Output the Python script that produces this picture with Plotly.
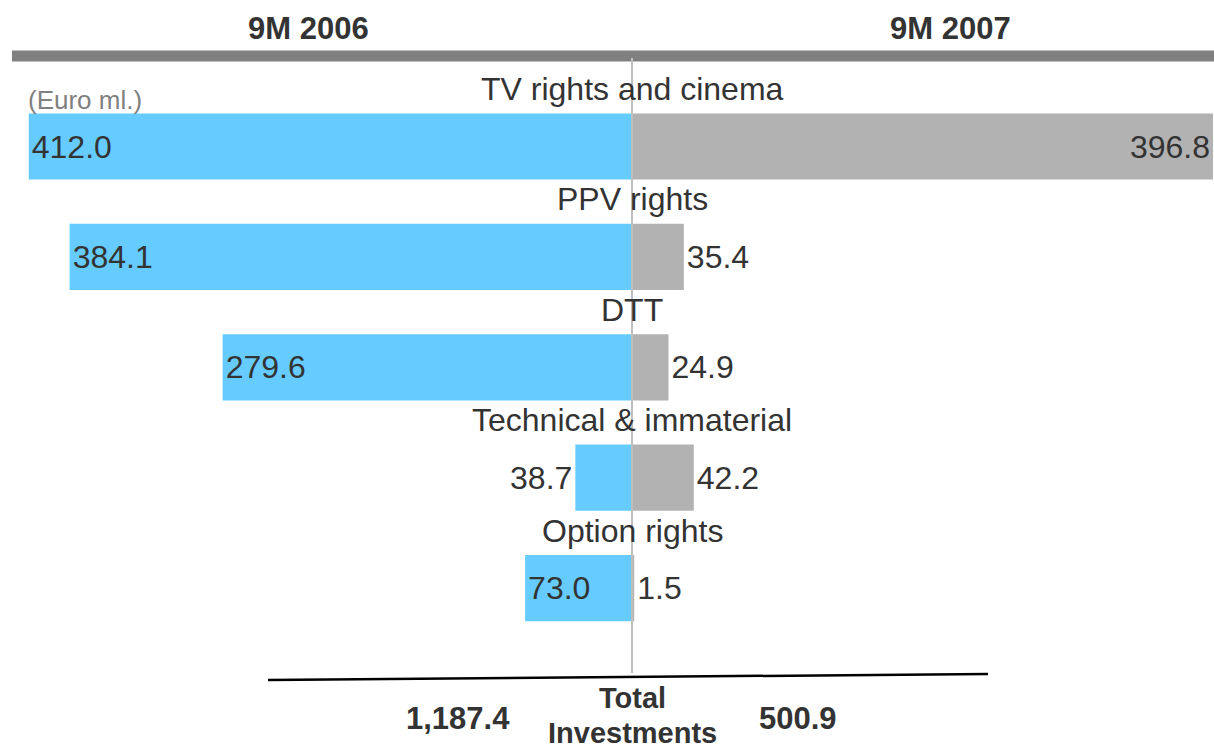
import plotly.graph_objects as go

# ---- data ----
categories = ["TV rights and cinema", "PPV rights", "DTT", "Technical & immaterial", "Option rights"]
values_2006 = [412.0, 384.1, 279.6, 38.7, 73.0]
values_2007 = [396.8, 35.4, 24.9, 42.2, 1.5]
period_labels = ["9M 2006", "9M 2007"]
totals = [1187.4, 500.9]
total_label = ["Total", "Investments"]
unit_label = "(Euro ml.)"

# ---- styles ----
W, H = 1214, 751
FONT = "Liberation Sans, Arial, sans-serif"
TXT = "#333333"
BLUE = "#66CCFF"
GREY = "#B2B2B2"
FS = 32


def px(x):
    return x / W


def py(y):
    return 1 - y / H


ypos = list(range(len(categories)))

fig = go.Figure()
fig.add_trace(go.Bar(
    y=ypos, x=[-v for v in values_2006], base=0, orientation="h",
    width=0.6, marker=dict(color=BLUE, line=dict(width=0)),
    text=[f"{v:.1f}" for v in values_2006], texttemplate="%{text}",
    textposition="auto", insidetextanchor="end", constraintext="none",
    textfont=dict(family=FONT, size=FS, color=TXT),
    cliponaxis=False, hoverinfo="skip", name=period_labels[0],
))
fig.add_trace(go.Bar(
    y=ypos, x=values_2007, base=0, orientation="h",
    width=0.6, marker=dict(color=GREY, line=dict(width=0)),
    text=[f"{v:.1f}" for v in values_2007], texttemplate="%{text}",
    textposition="auto", insidetextanchor="end", constraintext="none",
    textfont=dict(family=FONT, size=FS, color=TXT),
    cliponaxis=False, hoverinfo="skip", name=period_labels[1],
))

annotations = []
for i, c in enumerate(categories):
    annotations.append(dict(x=0, y=i - 0.52, xref="x", yref="y", text=c, showarrow=False,
                            xanchor="center", yanchor="middle",
                            font=dict(family=FONT, size=FS, color=TXT)))

# headers
annotations.append(dict(x=px(308), y=py(28), xref="paper", yref="paper", text=f"<b>{period_labels[0]}</b>",
                        showarrow=False, xanchor="center", yanchor="middle",
                        font=dict(family=FONT, size=31, color=TXT)))
annotations.append(dict(x=px(950), y=py(28), xref="paper", yref="paper", text=f"<b>{period_labels[1]}</b>",
                        showarrow=False, xanchor="center", yanchor="middle",
                        font=dict(family=FONT, size=31, color=TXT)))
annotations.append(dict(x=px(26), y=py(100), xref="paper", yref="paper", text=unit_label,
                        showarrow=False, xanchor="left", yanchor="middle",
                        font=dict(family=FONT, size=26, color="#808080")))

# totals
annotations.append(dict(x=px(458), y=py(718), xref="paper", yref="paper", text=f"<b>{totals[0]:,.1f}</b>",
                        showarrow=False, xanchor="center", yanchor="middle",
                        font=dict(family=FONT, size=31, color=TXT)))
annotations.append(dict(x=px(798), y=py(718), xref="paper", yref="paper", text=f"<b>{totals[1]:,.1f}</b>",
                        showarrow=False, xanchor="center", yanchor="middle",
                        font=dict(family=FONT, size=31, color=TXT)))
annotations.append(dict(x=0, y=py(698), xref="x", yref="paper", text=f"<b>{total_label[0]}</b>",
                        showarrow=False, xanchor="center", yanchor="middle", borderpad=0,
                        font=dict(family=FONT, size=29, color=TXT)))
annotations.append(dict(x=0, y=py(733), xref="x", yref="paper", text=f"<b>{total_label[1]}</b>",
                        showarrow=False, xanchor="center", yanchor="middle", borderpad=0,
                        font=dict(family=FONT, size=29, color=TXT)))

shapes = [
    # header rule
    dict(type="line", xref="paper", yref="paper", x0=px(12), x1=1, y0=py(56), y1=py(56),
         line=dict(color="#808080", width=11), layer="above"),
    # center axis line
    dict(type="line", xref="x", yref="paper", x0=0, x1=0, y0=py(58), y1=py(673),
         line=dict(color="#BFBFBF", width=2), layer="above"),
    # total rule
    dict(type="line", xref="paper", yref="paper", x0=px(268), x1=px(988), y0=py(680), y1=py(674),
         line=dict(color="#000000", width=2.5), layer="above"),
]

center = 632
right_max = 397.5
scale = (W - center) / right_max
fig.update_layout(
    width=W, height=H,
    margin=dict(l=0, r=0, t=0, b=0),
    paper_bgcolor="white", plot_bgcolor="white",
    showlegend=False, barmode="overlay",
    xaxis=dict(visible=False, range=[-center / scale, right_max], fixedrange=True),
    yaxis=dict(visible=False, range=[(H - 146.5) / 110.4, -146.5 / 110.4], fixedrange=True),
    annotations=annotations, shapes=shapes,
    font=dict(family=FONT, color=TXT),
)

fig.write_html(
    "out.html",
    config={"displayModeBar": False},
    post_script="document.body.style.margin='0';document.body.style.overflow='hidden';",
)
